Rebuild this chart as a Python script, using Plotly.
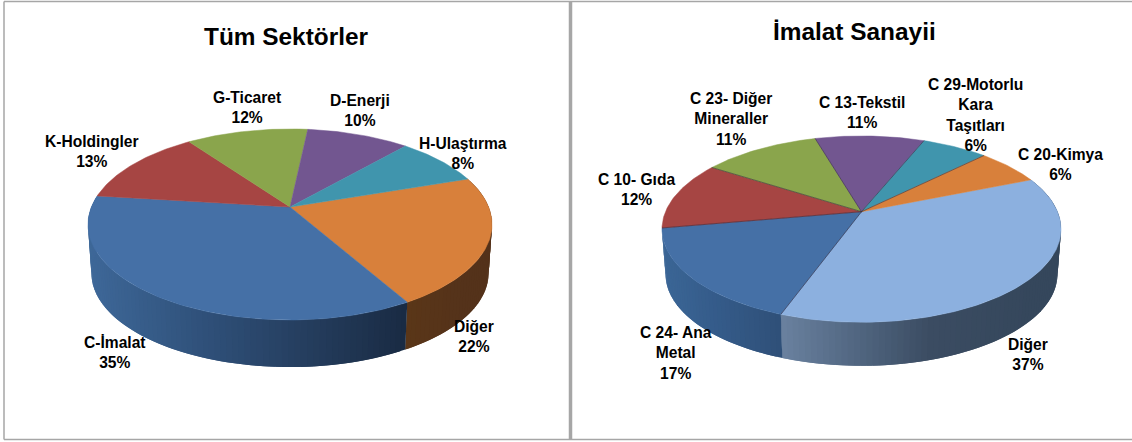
import math
import plotly.graph_objects as go

# ---- data (percent shares, clockwise from the start angle) ----
left_title = "Tüm Sektörler"
left_categories = ["Diğer", "C-İmalat", "K-Holdingler", "G-Ticaret", "D-Enerji", "H-Ulaştırma"]
left_values = [21.9, 35.2, 13.1, 11.6, 9.8, 8.3]

right_title = "İmalat Sanayii"
right_categories = ["Diğer", "C 24- Ana<br>Metal", "C 10- Gıda", "C 23- Diğer<br>Mineraller",
                    "C 13-Tekstil", "C 29-Motorlu<br>Kara<br>Taşıtları", "C 20-Kimya"]
right_values = [36.7, 16.7, 11.9, 11.4, 10.6, 6.4, 6.3]

# ---- style and layout ----
W, H = 1132, 442
FONT = "Liberation Sans, Arial, sans-serif"
ORANGE, BLUE, RED, GREEN, PURPLE, TEAL, LIGHT = (
    "#d8803b", "#4570a6", "#a64543", "#8aa54c", "#725690", "#4095ad", "#8cb0df")

left_style = dict(
    apex=(290, 207), rx=198.6, ry=92.3, k=0.183, depth_scale=0.983, depth_dy=49, start=71.3,
    colors=[ORANGE, BLUE, RED, GREEN, PURPLE, TEAL],
    side=[[(0.0, "#5a3618"), (1.0, "#54321a")],
          [(0.0, "#3d6696"), (0.35, "#2f5079"), (0.7, "#243c5c"), (1.0, "#192b43")],
          None, None, None, None],
    seam=None,
)
right_style = dict(
    apex=(861.5, 211.7), rx=196, ry=89.9, k=0.187, depth_scale=0.982, depth_dy=45.5, start=67.7,
    colors=[LIGHT, BLUE, RED, GREEN, PURPLE, TEAL, ORANGE],
    side=[[(0.0, "#6a819f"), (0.35, "#4d627c"), (0.6, "#3b4c62"), (1.0, "#35475c")],
          [(0.0, "#3b6696"), (0.5, "#345a88"), (1.0, "#2f5078")],
          None, None, None, None, None],
    seam="rgba(50,40,60,0.55)",
)

left_label_pos = [(474, 336), (115, 352), (92, 151), (247, 107), (360, 110), (463, 153)]
right_label_pos = [(1027.5, 354), (675.5, 353), (636, 189), (731, 119), (862, 112), (975, 115), (1060, 164)]


def hex2rgb(c):
    return tuple(int(c[i:i + 2], 16) for i in (1, 3, 5))


def ramp(stops, t):
    for (t0, c0), (t1, c1) in zip(stops, stops[1:]):
        if t <= t1:
            f = (t - t0) / (t1 - t0)
            a, b = hex2rgb(c0), hex2rgb(c1)
            return "rgb(%d,%d,%d)" % tuple(round(a[i] + (b[i] - a[i]) * f) for i in range(3))
    return stops[-1][1]


def rim(st, ang, lower=False):
    """Perspective projection of a rim point; ang is degrees clockwise from the back."""
    r = math.radians(ang)
    c, s = math.sin(r), math.cos(r)
    w = 1 + st["k"] * s
    x, y = st["rx"] * c / w, -st["ry"] * s / w
    ax, ay = st["apex"]
    if lower:
        return ax + x * st["depth_scale"], ay + st["depth_dy"] + y * st["depth_scale"]
    return ax + x, ay + y


def arc(a0, a1, step=1.0):
    n = max(2, int(abs(a1 - a0) / step) + 1)
    return [a0 + (a1 - a0) * i / (n - 1) for i in range(n)]


def pie3d(fig, values, st):
    total = sum(values)
    edges = [st["start"]]
    for v in values:
        edges.append(edges[-1] + 360 * v / total)

    # side wall: only the part facing the viewer; each band overlaps the next to hide seams
    for i, (a0, a1) in enumerate(zip(edges, edges[1:])):
        stops = st["side"][i]
        if stops is None:
            continue
        for b in (0, 360):
            lo, hi = max(a0 - b, 60), min(a1 - b, 300)
            if lo >= hi:
                continue
            angs = arc(lo, hi, 1.5)
            x0 = rim(st, angs[0])[0]
            x1 = rim(st, angs[-1])[0]
            # walk from the ends of the wall so the bands are painted in a stable order
            for j in range(len(angs) - 1):
                p, q = angs[j], angs[min(j + 2, len(angs) - 1)]
                mid = (angs[j] + angs[j + 1]) / 2
                sweep = arc(p, q, 0.75)
                top = [rim(st, a) for a in sweep]
                bot = [rim(st, a, True) for a in reversed(sweep)]
                pts = top + bot + [top[0]]
                t = (rim(st, mid)[0] - min(x0, x1)) / max(1, abs(x1 - x0))
                col = ramp(stops, t)
                fig.add_trace(go.Scatter(
                    x=[a for a, _ in pts], y=[a for _, a in pts], mode="lines", fill="toself",
                    fillcolor=col, line=dict(color=col, width=0), hoverinfo="skip"))

    # top face
    ax, ay = st["apex"]
    for i, (a0, a1) in enumerate(zip(edges, edges[1:])):
        pts = [(ax, ay)] + [rim(st, a) for a in arc(a0, a1)] + [(ax, ay)]
        fig.add_trace(go.Scatter(
            x=[p[0] for p in pts], y=[p[1] for p in pts], mode="lines", fill="toself",
            fillcolor=st["colors"][i], line=dict(color=st["colors"][i], width=0.5), hoverinfo="skip"))

    if st["seam"]:
        for a in edges[1:-1]:
            x, y = rim(st, a)
            fig.add_trace(go.Scatter(x=[ax, x], y=[ay, y], mode="lines",
                                     line=dict(color=st["seam"], width=1), hoverinfo="skip"))


fig = go.Figure()
pie3d(fig, left_values, left_style)
pie3d(fig, right_values, right_style)


def labels(categories, values, positions):
    for cat, val, (x, y) in zip(categories, values, positions):
        fig.add_annotation(x=x, y=y, xref="x", yref="y", showarrow=False, align="center",
                           text="<b>%s<br>%d%%</b>" % (cat, round(val)),
                           font=dict(family=FONT, size=15.6, color="#000000"))


labels(left_categories, left_values, left_label_pos)
labels(right_categories, right_values, right_label_pos)

for title, x, y in [(left_title, 286, 36), (right_title, 854, 31)]:
    fig.add_annotation(x=x, y=y, xref="x", yref="y", showarrow=False,
                       text="<b>%s</b>" % title, font=dict(family=FONT, size=24.4, color="#000000"))

# panel frames
GRAY = "#a6a6a6"
frame = [(4, 1.5, 4, 439.5, 1.5), (4, 1.5, 1132, 1.5, 1.5), (4, 439.5, 1132, 439.5, 1.5),
         (570.5, 1.5, 570.5, 439.5, 3.5)]
for x0, y0, x1, y1, lw in frame:
    fig.add_shape(type="line", x0=x0, y0=y0, x1=x1, y1=y1, xref="x", yref="y",
                  line=dict(color=GRAY, width=lw))

fig.update_layout(
    width=W, height=H, margin=dict(l=0, r=0, t=0, b=0), showlegend=False,
    paper_bgcolor="#ffffff", plot_bgcolor="#ffffff",
    xaxis=dict(range=[0, W], visible=False, fixedrange=True),
    yaxis=dict(range=[H, 0], visible=False, fixedrange=True),
)
fig.write_html("out.html", post_script="document.body.style.margin='0';",
               config={"displayModeBar": False})
